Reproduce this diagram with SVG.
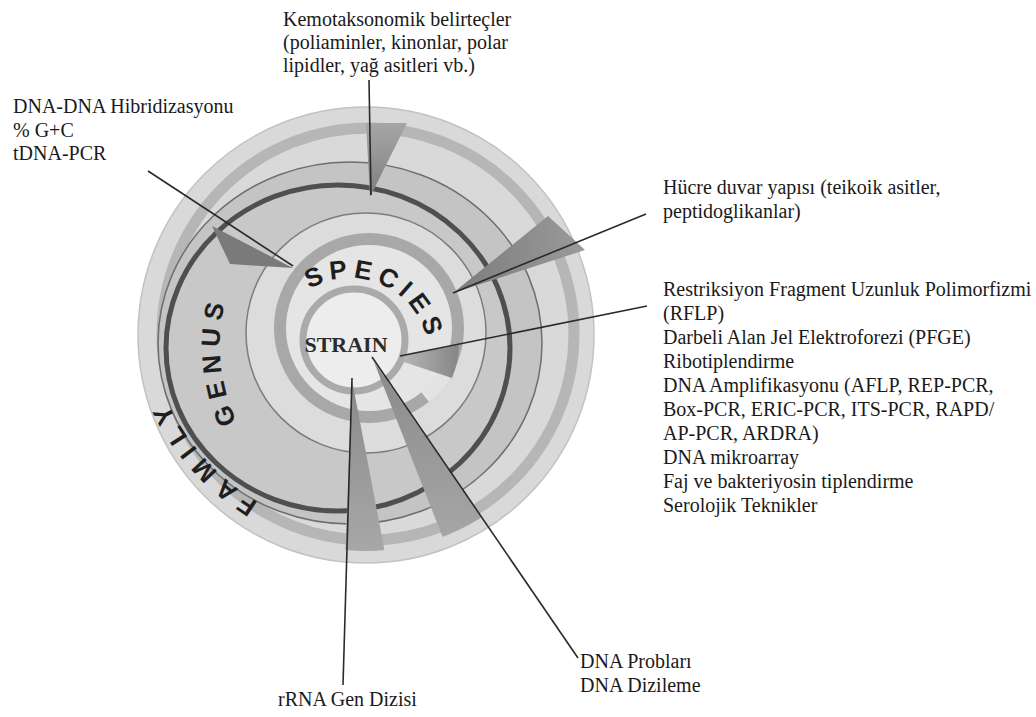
<svg xmlns="http://www.w3.org/2000/svg" width="1036" height="717" viewBox="0 0 1036 717">
<style>
.lbl{font-family:"Liberation Serif","Times New Roman",serif;font-size:20px;fill:#1a1a1a}
.ring{font-family:"Liberation Sans",Arial,sans-serif;font-weight:bold;fill:#1e1e1e}
.con{stroke:#2a2a2a;stroke-width:1.6;fill:none}
</style>
<defs>
<linearGradient id="gv" x1="0" y1="0" x2="0" y2="1"><stop offset="0" stop-color="#a6a6a6"/><stop offset="1" stop-color="#7f7f7f"/></linearGradient>
<linearGradient id="gd" x1="0" y1="0" x2="0" y2="1"><stop offset="0" stop-color="#8a8a8a"/><stop offset="1" stop-color="#a9a9a9"/></linearGradient>
<linearGradient id="gh" x1="1" y1="0" x2="0" y2="0"><stop offset="0" stop-color="#9a9a9a"/><stop offset="1" stop-color="#7c7c7c"/></linearGradient>
<linearGradient id="gs" x1="0" y1="0" x2="1" y2="0"><stop offset="0" stop-color="#b4b4b4"/><stop offset="1" stop-color="#868686"/></linearGradient>
<clipPath id="disc"><circle cx="366" cy="335" r="216"/></clipPath>
<path id="pSpecies" d="M 303.6 293.1 A 79 79 0 0 1 428.6 348.7"/>
<path id="pGenus" d="M 262 461 A 180 180 0 0 1 244 255"/>
<path id="pFamily" d="M 347.2 533.7 A 236 236 0 0 1 144 304.1"/>
</defs>
<g id="target">
<circle cx="366" cy="335" r="228" fill="#d9d9d9" stroke="#c2c2c2" stroke-width="1.5"/>
<circle cx="368" cy="334" r="206" fill="none" stroke="#b6b6b6" stroke-width="11"/>
<ellipse cx="350" cy="343" rx="192" ry="181" fill="#c4c4c4" stroke="#6e6e6e" stroke-width="1.5"/>
<ellipse cx="338" cy="348" rx="172" ry="163" fill="#c8c8c8" stroke="#4f4f4f" stroke-width="5"/>
<circle cx="366" cy="333" r="120" fill="#dcdcdc" stroke="#7c7c7c" stroke-width="1.5"/>
<circle cx="369" cy="328" r="89" fill="#e5e5e5" stroke="#a8a8a8" stroke-width="12"/>
<path d="M 447 371 A 89 89 0 0 1 425 397" fill="none" stroke="#e3e3e3" stroke-width="13"/>
<circle cx="354" cy="340" r="51" fill="#ededed" stroke="#aaaaaa" stroke-width="7"/>
</g>
<g id="wedges">
<polygon points="366,123 407,123 370,197" fill="url(#gv)"/>
<polygon points="212,226 230,264 293,268" fill="#7a7a7a"/>
<polygon points="548,216 585,250 453,293" fill="url(#gh)"/>
<path d="M 404 355 L 459 345 A 89 89 0 0 1 452 378 L 404 362 Z" fill="url(#gs)"/>
<polygon points="352,380 345,560 386,558" fill="url(#gd)" clip-path="url(#disc)"/>
<polygon points="374,362 450,556 497,540" fill="url(#gd)" clip-path="url(#disc)"/>
</g>
<g id="labels-ring">
<text class="ring" font-size="26" letter-spacing="5.5"><textPath href="#pSpecies" startOffset="50%" text-anchor="middle">SPECIES</textPath></text>
<text class="ring" font-size="26" letter-spacing="7"><textPath href="#pGenus" startOffset="50%" text-anchor="middle">GENUS</textPath></text>
<text class="ring" font-size="26" letter-spacing="8.5"><textPath href="#pFamily" startOffset="50%" text-anchor="middle">FAMILY</textPath></text>
<text x="346" y="352" text-anchor="middle" style="font-family:'Liberation Serif',serif;font-weight:bold;font-size:22px;fill:#2b2b2b">STRAIN</text>
</g>
<g id="connectors">
<line class="con" x1="369" y1="80" x2="371" y2="195"/>
<line class="con" x1="148" y1="171" x2="293" y2="266"/>
<line class="con" x1="646" y1="214" x2="453" y2="293"/>
<line class="con" x1="647" y1="306" x2="400" y2="356"/>
<line class="con" x1="343" y1="685" x2="352" y2="378"/>
<line class="con" x1="578" y1="658" x2="372" y2="357"/>
</g>
<g id="n-kemo"><text class="lbl" x="283" y="26">Kemotaksonomik belirteçler</text><text class="lbl" x="283" y="49">(poliaminler, kinonlar, polar</text><text class="lbl" x="283" y="72">lipidler, yağ asitleri vb.)</text></g>
<g id="n-dna"><text class="lbl" x="13" y="113">DNA-DNA Hibridizasyonu</text><text class="lbl" x="13" y="137">% G+C</text><text class="lbl" x="13" y="160">tDNA-PCR</text></g>
<g id="n-hucre"><text class="lbl" x="663" y="194">Hücre duvar yapısı (teikoik asitler,</text><text class="lbl" x="663" y="218">peptidoglikanlar)</text></g>
<g id="n-strain">
<text class="lbl" x="663" y="296">Restriksiyon Fragment Uzunluk Polimorfizmi</text>
<text class="lbl" x="663" y="320">(RFLP)</text>
<text class="lbl" x="663" y="344">Darbeli Alan Jel Elektroforezi (PFGE)</text>
<text class="lbl" x="663" y="368">Ribotiplendirme</text>
<text class="lbl" x="663" y="392">DNA Amplifikasyonu (AFLP, REP-PCR,</text>
<text class="lbl" x="663" y="416">Box-PCR, ERIC-PCR, ITS-PCR, RAPD/</text>
<text class="lbl" x="663" y="440">AP-PCR, ARDRA)</text>
<text class="lbl" x="663" y="464">DNA mikroarray</text>
<text class="lbl" x="663" y="488">Faj ve bakteriyosin tiplendirme</text>
<text class="lbl" x="663" y="512">Serolojik Teknikler</text>
</g>
<g id="n-prob"><text class="lbl" x="580" y="668">DNA Probları</text><text class="lbl" x="580" y="692">DNA Dizileme</text></g>
<g id="n-rrna"><text class="lbl" x="278" y="706">rRNA Gen Dizisi</text></g>
</svg>
